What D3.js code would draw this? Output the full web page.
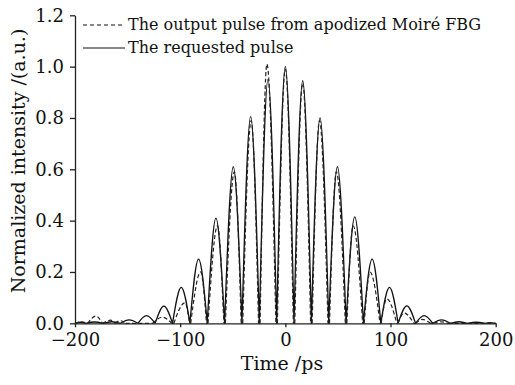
<!DOCTYPE html>
<html><head><meta charset="utf-8">
<script src="https://cdn.jsdelivr.net/npm/d3@7"></script>
<style>
body{margin:0;background:#fff}
svg{display:block}
text{font-family:"DejaVu Serif",serif;fill:#111}
</style>
</head><body>
<svg id="c" width="515" height="385"></svg>
<script>
// ---- data ----
const xTicks = [-200, -100, 0, 100, 200];
const yTicks = [0, 0.2, 0.4, 0.6, 0.8, 1.0, 1.2];
const legendLabels = ["The output pulse from apodized Moiré FBG", "The requested pulse"];
const xTitle = "Time /ps";
const yTitle = "Normalized intensity /(a.u.)";

// requested pulse (solid): alternating zeros and lobe peaks
const requestedT = [-200,-194.5,-189.75,-181.5,-173.25,-165,-156.75,-148.5,-140.25,-132,-123.75,-115.5,-107.25,-99,-90.75,-82.5,-74.25,-66,-57.75,-49.5,-41.25,-33,-24.75,-16.5,-8.25,0,8.25,16.5,24.75,33,41.25,49.5,57.75,66,74.25,82.5,90.75,99,107.25,115.5,123.75,132,140.25,148.5,156.75,165,173.25,181.5,189.75,194.5,200];
const requestedI = [0,0.004,0,0.005,0,0.006,0,0.013,0,0.03,0,0.067,0,0.14,0,0.25,0,0.41,0,0.61,0,0.805,0,0.95,0,1.0,0,0.945,0,0.80,0,0.61,0,0.415,0,0.25,0,0.14,0,0.068,0,0.03,0,0.013,0,0.006,0,0.004,0,0.003,0];

// output pulse from apodized Moiré FBG (dashed)
const outputT = [-200,-194,-188,-180,-174,-166,-162,-157,-152,-126,-117,-108,-106,-95.5,-91,-90,-80.5,-75,-73.5,-64.5,-58.5,-57,-48.5,-42,-40.5,-32.5,-25.5,-24,-17.5,-9,-7.6,0,7.6,9,16.5,24,25.5,32.5,40.5,42,48.5,57,58.5,64.5,73.5,75,80.5,90,91,96.5,106,107,113,122,124,130,138,141,147,155,200];
const outputI = [0,0.006,0,0.028,0,0.012,0,0.01,0,0,0.024,0,0,0.08,0,0,0.20,0,0,0.38,0,0,0.59,0,0,0.79,0,0,1.01,0,0,0.99,0,0,0.935,0,0,0.79,0,0,0.59,0,0,0.38,0,0,0.20,0,0,0.095,0,0,0.04,0,0,0.015,0,0,0.006,0,0];

// ---- chart ----
const svg = d3.select("#c");
const x = d3.scaleLinear().domain([-200, 200]).range([75, 495.7]);
const y = d3.scaleLinear().domain([0, 1.2]).range([323.3, 15.3]);

const line = d3.line().x(d => x(d.t)).y(d => y(d.v)).curve(d3.curveMonotoneX);

function lobePath(ts, vs) {
  const pts = ts.map((t, i) => ({t, v: vs[i]}));
  const segs = [];
  let cur = [pts[0]];
  for (let i = 1; i < pts.length; i++) {
    cur.push(pts[i]);
    if (pts[i].v === 0) { segs.push(cur); cur = [pts[i]]; }
  }
  if (cur.length > 1) segs.push(cur);
  return segs.map(s => line(s)).join("");
}

svg.append("path").attr("d", lobePath(requestedT, requestedI))
  .attr("fill", "none").attr("stroke", "#111").attr("stroke-width", 1.3);
svg.append("path").attr("d", lobePath(outputT, outputI))
  .attr("fill", "none").attr("stroke", "#222").attr("stroke-width", 1.2)
  .attr("stroke-dasharray", "4,2.5");

// axes
const fmtX = d => d < 0 ? "\u2212" + Math.abs(d) : String(d);
const gx = svg.append("g").attr("transform", "translate(0,323.3)")
  .call(d3.axisBottom(x).tickValues(xTicks).tickFormat(fmtX).tickSize(4).tickSizeOuter(0).tickPadding(6));
const gy = svg.append("g").attr("transform", "translate(75,0)")
  .call(d3.axisLeft(y).tickValues(yTicks).tickFormat(d3.format(".1f")).tickSize(5).tickSizeOuter(0).tickPadding(6));
[gx, gy].forEach(g => {
  g.selectAll("path,line").attr("stroke", "#222").attr("stroke-width", 1.3);
  g.selectAll("text").attr("font-family", "DejaVu Serif, serif").attr("font-size", 18).attr("fill", "#111");
});

// titles
svg.append("text").attr("x", 282).attr("y", 370).attr("text-anchor", "middle")
  .attr("font-size", 19).text(xTitle);
svg.append("text").attr("transform", "translate(25,161) rotate(-90)").attr("text-anchor", "middle")
  .attr("font-size", 19).text(yTitle);

// legend
const legY = [25, 48];
const leg = svg.append("g");
legendLabels.forEach((lab, i) => {
  leg.append("line").attr("x1", 83).attr("x2", 125).attr("y1", legY[i]).attr("y2", legY[i])
    .attr("stroke", "#111").attr("stroke-width", 1.2)
    .attr("stroke-dasharray", i === 0 ? "4,3" : null);
  leg.append("text").attr("x", 128).attr("y", legY[i] + 4.5).attr("font-size", 16).text(lab);
});
</script>
</body></html>
